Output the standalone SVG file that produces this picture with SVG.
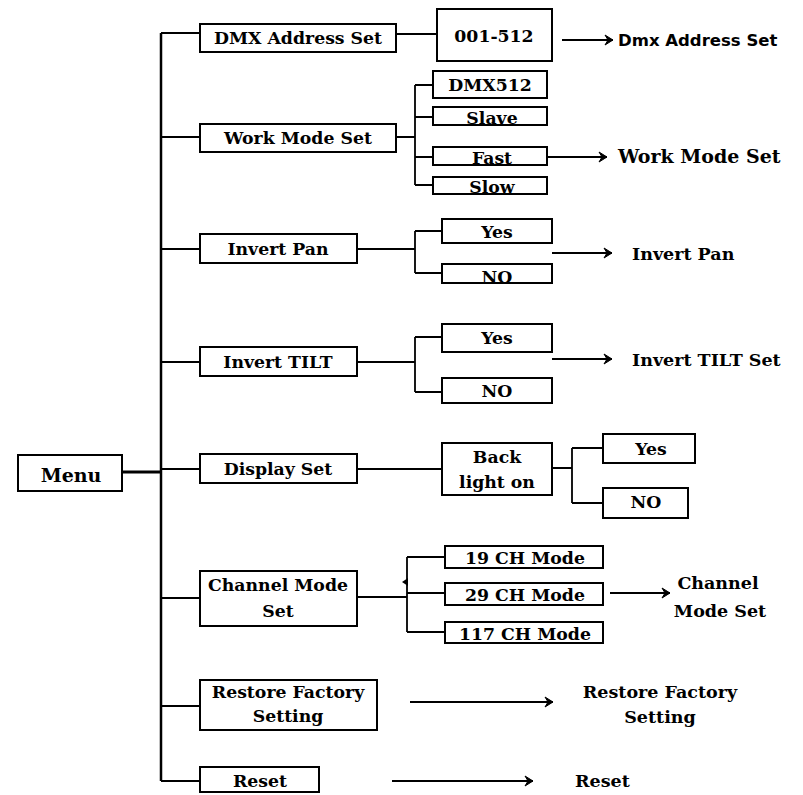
<svg xmlns="http://www.w3.org/2000/svg" width="803" height="795" viewBox="0 0 803 795">
<style>
.b{fill:#fff;stroke:#000;stroke-width:2}
.t{font-family:"DejaVu Serif","Liberation Serif",serif;font-weight:bold;font-size:17.3px;fill:#000;text-anchor:middle}
.l{font-family:"DejaVu Serif","Liberation Serif",serif;font-weight:bold;font-size:17.5px;fill:#000}
.c{fill:none;stroke:#000;stroke-width:1.8}
.a{fill:none;stroke:#000;stroke-width:2.2;marker-end:url(#ah)}
</style>
<defs>
<marker id="ah" markerWidth="12" markerHeight="12" refX="10" refY="6" orient="auto" markerUnits="userSpaceOnUse">
<path d="M2,1 L10,6 L2,11 L5,6 z" fill="#000" stroke="#000" stroke-width="1"/>
</marker>
</defs>
<rect width="803" height="795" fill="#fff"/>
<g id="connectors">
<path class="c" d="M161,33 V781" style="stroke-width:2.5"/>
<path class="c" d="M122,472 H161" style="stroke-width:3"/>
<path class="c" d="M161,33 H200 M161,137 H200 M161,249 H200 M161,362 H200 M161,469 H200 M161,598 H200 M161,706 H200 M161,781 H200"/>
<path class="c" d="M396,34 H437"/>
<path class="c" d="M396,137 H415 M415,85 V185 M415,85 H433 M415,117 H433 M415,157 H433 M415,185 H433"/>
<path class="c" d="M357,249 H415 M415,231 V273 M415,231 H442 M415,273 H442"/>
<path class="c" d="M357,362 H415 M415,337 V392 M415,337 H442 M415,392 H442"/>
<path class="c" d="M357,469 H442 M552,468 H572 M572,448 V503 M572,448 H603 M572,503 H603"/>
<path class="c" d="M357,597 H407 M407,557 V632 M407,557 H445 M407,593 H445 M407,632 H445"/>
<polygon points="402,582 408,578 408,586" fill="#000"/>
<path class="a" d="M562,40 H613"/>
<path class="a" d="M547,157 H607"/>
<path class="a" d="M552,253 H612"/>
<path class="a" d="M552,359 H612"/>
<path class="a" d="M610,593 H670"/>
<path class="a" d="M410,702 H553"/>
<path class="a" d="M392,781 H533"/>
</g>
<g id="menu"><rect class="b" x="18" y="455" width="104" height="36"/><text class="t" x="71" y="482" style="font-size:19px">Menu</text></g>
<g id="dmx-address-set"><rect class="b" x="200" y="24" width="196" height="28"/><text class="t" x="298" y="44">DMX Address Set</text></g>
<g id="addr-range"><rect class="b" x="437" y="9" width="115" height="52"/><text class="t" x="494" y="42">001-512</text></g>
<g id="work-mode-set"><rect class="b" x="200" y="124" width="196" height="28"/><text class="t" x="298" y="144">Work Mode Set</text></g>
<g id="dmx512"><rect class="b" x="433" y="71" width="114" height="27"/><text class="t" x="490" y="91">DMX512</text></g>
<g id="slave"><rect class="b" x="433" y="107" width="114" height="18"/><text class="t" x="492" y="124">Slave</text></g>
<g id="fast"><rect class="b" x="433" y="147" width="114" height="18"/><text class="t" x="492" y="164">Fast</text></g>
<g id="slow"><rect class="b" x="433" y="177" width="114" height="17"/><text class="t" x="492" y="193">Slow</text></g>
<g id="invert-pan"><rect class="b" x="200" y="234" width="157" height="29"/><text class="t" x="278" y="255">Invert Pan</text></g>
<g id="pan-yes"><rect class="b" x="442" y="219" width="110" height="24"/><text class="t" x="497" y="238">Yes</text></g>
<g id="pan-no"><rect class="b" x="442" y="264" width="110" height="19"/><text class="t" x="497" y="283">NO</text></g>
<g id="invert-tilt"><rect class="b" x="200" y="347" width="157" height="29"/><text class="t" x="278" y="368">Invert TILT</text></g>
<g id="tilt-yes"><rect class="b" x="442" y="324" width="110" height="28"/><text class="t" x="497" y="344">Yes</text></g>
<g id="tilt-no"><rect class="b" x="442" y="378" width="110" height="25"/><text class="t" x="497" y="397">NO</text></g>
<g id="display-set"><rect class="b" x="200" y="454" width="157" height="29"/><text class="t" x="278" y="475">Display Set</text></g>
<g id="backlight"><rect class="b" x="442" y="443" width="110" height="52"/><text class="t" x="497" y="463">Back</text><text class="t" x="497" y="488">light on</text></g>
<g id="bl-yes"><rect class="b" x="603" y="434" width="92" height="29"/><text class="t" x="651" y="455">Yes</text></g>
<g id="bl-no"><rect class="b" x="603" y="488" width="85" height="30"/><text class="t" x="646" y="508">NO</text></g>
<g id="channel-mode-set"><rect class="b" x="200" y="571" width="157" height="55"/><text class="t" x="278" y="591">Channel Mode</text><text class="t" x="278" y="617">Set</text></g>
<g id="ch19"><rect class="b" x="445" y="546" width="158" height="22"/><text class="t" x="525" y="564">19 CH Mode</text></g>
<g id="ch29"><rect class="b" x="445" y="583" width="158" height="22"/><text class="t" x="525" y="601">29 CH Mode</text></g>
<g id="ch117"><rect class="b" x="445" y="622" width="158" height="21"/><text class="t" x="525" y="640">117 CH Mode</text></g>
<g id="restore"><rect class="b" x="200" y="680" width="177" height="50"/><text class="t" x="288" y="698">Restore Factory</text><text class="t" x="288" y="722">Setting</text></g>
<g id="reset"><rect class="b" x="200" y="767" width="119" height="25"/><text class="t" x="260" y="787">Reset</text></g>
<g id="labels">
<text x="618" y="46" style="font-family:'DejaVu Sans','Liberation Sans',sans-serif;font-weight:bold;font-size:16.5px">Dmx Address Set</text>
<text class="l" x="618" y="163" style="font-size:19px">Work Mode Set</text>
<text class="l" x="632" y="260">Invert Pan</text>
<text class="l" x="632" y="366">Invert TILT Set</text>
<text class="l" x="718" y="589" text-anchor="middle">Channel</text>
<text class="l" x="720" y="617" text-anchor="middle">Mode Set</text>
<text class="l" x="660" y="698" text-anchor="middle">Restore Factory</text>
<text class="l" x="660" y="723" text-anchor="middle">Setting</text>
<text class="l" x="575" y="787">Reset</text>
</g>
</svg>
